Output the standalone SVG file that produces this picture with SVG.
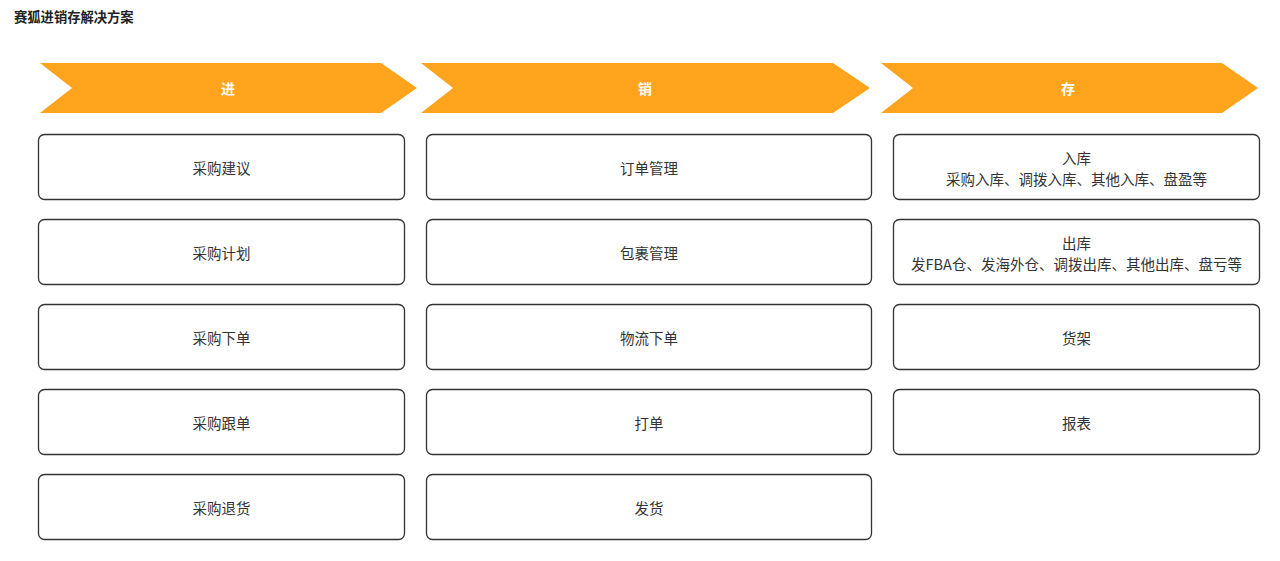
<svg xmlns="http://www.w3.org/2000/svg" width="1280" height="561" viewBox="0 0 1280 561">
<style>
.title{font-family:"Noto Sans CJK SC","Liberation Sans",sans-serif;font-size:13.3px;font-weight:bold;fill:#222}
.chev{fill:#FFA41C}
.ct{font-family:"Noto Sans CJK SC","Liberation Sans",sans-serif;font-size:14px;font-weight:bold;fill:#fff;text-anchor:middle;dominant-baseline:central}
.box{fill:#fff;stroke:#333;stroke-width:1.3}
.bt{font-family:"Noto Sans CJK SC","Liberation Sans",sans-serif;font-size:14.5px;fill:#333;text-anchor:middle;dominant-baseline:central}
</style>
<rect width="1280" height="561" fill="#fff"/>
<text class="title" x="14" y="22">赛狐进销存解决方案</text>
<g id="chev-jin"><polygon class="chev" points="40,63 381,63 417,88 381,113 40,113 72,88"/><text class="ct" x="228" y="88">进</text></g>
<g id="chev-xiao"><polygon class="chev" points="421,63 833,63 870,88 833,113 421,113 453,88"/><text class="ct" x="645" y="88">销</text></g>
<g id="chev-cun"><polygon class="chev" points="881,63 1222,63 1258,88 1222,113 881,113 913,88"/><text class="ct" x="1068" y="88">存</text></g>
<g id="j1"><rect class="box" x="38.5" y="134.5" width="366" height="65" rx="6"/><text class="bt" x="221.5" y="167">采购建议</text></g>
<g id="j2"><rect class="box" x="38.5" y="219.5" width="366" height="65" rx="6"/><text class="bt" x="221.5" y="252">采购计划</text></g>
<g id="j3"><rect class="box" x="38.5" y="304.5" width="366" height="65" rx="6"/><text class="bt" x="221.5" y="337">采购下单</text></g>
<g id="j4"><rect class="box" x="38.5" y="389.5" width="366" height="65" rx="6"/><text class="bt" x="221.5" y="422">采购跟单</text></g>
<g id="j5"><rect class="box" x="38.5" y="474.5" width="366" height="65" rx="6"/><text class="bt" x="221.5" y="507">采购退货</text></g>
<g id="x1"><rect class="box" x="426.5" y="134.5" width="445" height="65" rx="6"/><text class="bt" x="649" y="167">订单管理</text></g>
<g id="x2"><rect class="box" x="426.5" y="219.5" width="445" height="65" rx="6"/><text class="bt" x="649" y="252">包裹管理</text></g>
<g id="x3"><rect class="box" x="426.5" y="304.5" width="445" height="65" rx="6"/><text class="bt" x="649" y="337">物流下单</text></g>
<g id="x4"><rect class="box" x="426.5" y="389.5" width="445" height="65" rx="6"/><text class="bt" x="649" y="422">打单</text></g>
<g id="x5"><rect class="box" x="426.5" y="474.5" width="445" height="65" rx="6"/><text class="bt" x="649" y="507">发货</text></g>
<g id="c1"><rect class="box" x="893.5" y="134.5" width="366" height="65" rx="6"/><text class="bt" x="1076.5" y="157">入库</text><text class="bt" x="1076.5" y="178">采购入库、调拨入库、其他入库、盘盈等</text></g>
<g id="c2"><rect class="box" x="893.5" y="219.5" width="366" height="65" rx="6"/><text class="bt" x="1076.5" y="242">出库</text><text class="bt" x="1076.5" y="263">发FBA仓、发海外仓、调拨出库、其他出库、盘亏等</text></g>
<g id="c3"><rect class="box" x="893.5" y="304.5" width="366" height="65" rx="6"/><text class="bt" x="1076.5" y="337">货架</text></g>
<g id="c4"><rect class="box" x="893.5" y="389.5" width="366" height="65" rx="6"/><text class="bt" x="1076.5" y="422">报表</text></g>
<g id="connectors"></g>
</svg>
